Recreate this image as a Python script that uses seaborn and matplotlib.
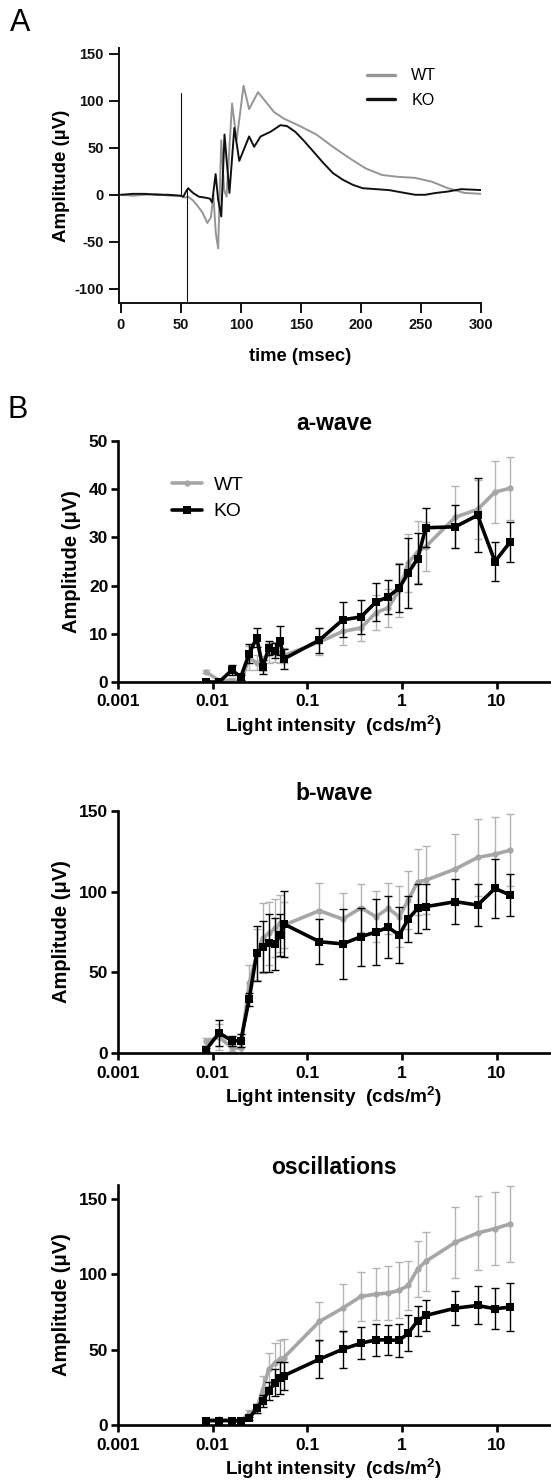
import matplotlib
matplotlib.use("Agg")
import matplotlib.pyplot as plt
import seaborn as sns
import numpy as np
from matplotlib.lines import Line2D

sns.set_theme(style="ticks")
plt.rcParams['font.family'] = ['Liberation Sans', 'DejaVu Sans']
plt.rcParams['text.color'] = 'black'
plt.rcParams['axes.labelcolor'] = 'black'
plt.rcParams['xtick.color'] = 'black'
plt.rcParams['ytick.color'] = 'black'
plt.rcParams['axes.unicode_minus'] = False
plt.rcParams['mathtext.fontset'] = 'custom'
plt.rcParams['mathtext.rm'] = 'Liberation Sans:bold'
plt.rcParams['mathtext.bf'] = 'Liberation Sans:bold'

# ---------------- Panel A: ERG traces ----------------
wt_time = [0, 10, 20, 30, 40, 50, 53, 56, 60, 64, 68, 72, 75, 77, 79, 81, 83.6, 86, 88,
           92.6, 96.4, 102.2, 106.8, 114.2, 120, 127.5, 135.7, 149.2, 162.9, 176.6,
           190.3, 204, 217.7, 231.4, 245.1, 258.8, 272.5, 286.2, 300]
wt_amp = [0, -1, 0, 1, -1, -1, -3, -2, -6, -12, -19, -30, -24, 0, -40, -57, 58, 5, -2,
          97, 58, 116, 91, 109, 100, 88, 81, 73, 64, 51, 39, 28, 21, 19, 18, 14, 7, 2, 1]

ko_time = [0, 10, 20, 30, 40, 49.5, 52, 54, 56, 60, 65, 70, 74, 76, 78.9, 81, 83.6, 86.3,
           90.4, 94.5, 98.6, 106.8, 111, 116.4, 124.7, 132.9, 138.4, 145.2, 152, 160.3,
           168.5, 176.7, 184.9, 193.2, 201.4, 212.3, 223.3, 234.2, 245.2, 253.4, 261.6,
           272.6, 283.6, 300]
ko_amp = [0, 1, 1, 0, 0, -1, -2, 3, 7, 2, -2, -3, -4, -8, 22, -5, -23, 64, 2, 71, 36,
          62, 51, 62, 67, 74, 73, 67, 58, 46, 34, 23, 16, 10.6, 7, 6, 5, 2.5, 0, 0, 1.8,
          3.5, 6, 5]

# stimulus artifact
art_time = [50, 50, np.nan, 55, 55]
art_amp = [0, 108, np.nan, 5, -113]

# ---------------- Panel B: intensity-response ----------------
intensity = [0.0085, 0.0117, 0.016, 0.0198, 0.0243, 0.0292, 0.0337, 0.039, 0.0458, 0.0514,
             0.0566, 0.134, 0.236, 0.368, 0.53, 0.714, 0.933, 1.16, 1.46, 1.78, 3.65, 6.28,
             9.57, 13.8]

a_wt = [2.1, 0.3, 0.3, 0.0, 5.0, 4.0, 3.8, 6.0, 6.2, 6.0, 5.5, 8.3, 10.5, 11.2, 14.4, 15.4,
        19.1, 24.7, 27.0, 28.1, 34.2, 35.8, 39.4, 40.2]
a_wt_err = [0.3, 0.3, 0.5, 0.3, 2.5, 1.5, 1.5, 2.0, 2.0, 2.0, 1.5, 2.8, 2.8, 2.7, 3.6, 3.9,
            5.6, 6.0, 6.5, 5.1, 6.5, 6.2, 6.5, 6.5]
a_ko = [0, 0, 2.5, 1.0, 5.9, 9.2, 3.1, 7.0, 6.5, 8.6, 4.8, 8.7, 12.9, 13.5, 16.6, 17.7, 19.5,
        22.6, 25.6, 32.0, 32.2, 34.6, 25.0, 29.0]
a_ko_err = [0.3, 0.3, 1.0, 0.5, 2.0, 2.0, 1.5, 1.5, 1.5, 3.0, 2.0, 2.6, 3.6, 3.5, 4.0, 3.5,
            5.0, 7.2, 5.3, 4.0, 4.5, 7.7, 4.1, 4.1]

b_wt = [7.2, 10.0, 3.1, 3.0, 43.3, 61.0, 71.1, 74.2, 77.3, 80.4, 79.3, 88.2, 83.0, 90.0,
        84.5, 89.6, 84.5, 94.8, 106.1, 107.1, 114.0, 121.2, 123.2, 125.7]
b_wt_err = [2, 8, 2, 5, 11, 16, 21.6, 19.6, 18, 17.5, 14, 17, 16, 15, 16, 16, 19, 18, 20.6,
            21, 22, 23.7, 22.8, 22.3]
b_ko = [2.1, 12.4, 7.6, 7.6, 33.4, 61.8, 65.9, 68.0, 67.6, 73.1, 79.9, 69.0, 67.6, 72.1,
        75.0, 77.9, 73.1, 83.0, 89.6, 90.7, 93.8, 91.7, 102.0, 97.9]
b_ko_err = [1, 7.8, 3, 4, 4, 17, 16, 18, 16, 13, 20.7, 14, 21.6, 18, 20.4, 19.3, 17.4, 14.4,
            15.3, 14, 14, 13, 18.3, 13]

o_wt = [2.9, 3.8, 2.9, 2.9, 7.7, 11, 23.2, 36.9, 41.4, 43.6, 44.7, 68.6, 77.4, 85.2, 86.7,
        87.4, 89.2, 92.5, 103.3, 108.4, 121.0, 127.2, 130.1, 133.2]
o_wt_err = [0.5, 0.5, 0.5, 0.5, 2, 3, 9, 11, 13, 13, 12, 12.8, 16, 16, 17.3, 17.7, 18.5,
            16.4, 18.4, 19.5, 23.5, 24.3, 24, 25]
o_ko = [2.9, 2.9, 2.9, 2.9, 4.4, 11.1, 16.2, 22.6, 28.1, 31.4, 32.7, 43.6, 50.2, 54.2, 56.4,
        56.4, 56.0, 60.8, 69.0, 72.6, 77.4, 79.2, 77.0, 78.1]
o_ko_err = [0.5, 0.5, 0.5, 0.5, 1, 3, 4, 6, 9, 10.6, 9.3, 12.4, 12.2, 10.4, 10.4, 10, 10.8,
            11.8, 10, 10.4, 11.1, 12.6, 13.7, 15.9]

x_ticks = [0.001, 0.01, 0.1, 1, 10]
x_ticklabels = ['0.001', '0.01', '0.1', '1', '10']

W, H = 551, 1483
fig = plt.figure(figsize=(W / 100, H / 100), dpi=100)

def box(l, t, r, b):
    return [l / W, 1 - b / H, (r - l) / W, (b - t) / H]

WT_A = '#959595'
WT_B = '#a6a6a6'
WT_ERR = '#b3b3b3'

# ---------------- Panel A ----------------
axA = fig.add_axes(box(119, 48, 481, 303))
sns.lineplot(x=wt_time, y=wt_amp, ax=axA, color=WT_A, linewidth=1.4, estimator=None, sort=False)
sns.lineplot(x=ko_time, y=ko_amp, ax=axA, color='#111111', linewidth=1.4, estimator=None, sort=False)
axA.plot(art_time, art_amp, color='#111111', linewidth=0.8)
axA.set_xlim(-1.6, 300)
axA.set_ylim(-115, 156)
axA.set_xticks([0, 50, 100, 150, 200, 250, 300])
axA.set_yticks([-100, -50, 0, 50, 100, 150])
for s in ['top', 'right']:
    axA.spines[s].set_visible(False)
for s in ['left', 'bottom']:
    axA.spines[s].set_linewidth(1.4)
    axA.spines[s].set_color('#111111')
axA.tick_params(direction='out', length=7, width=1.4, colors='#111111', labelsize=10.5, pad=4)
for lab in axA.get_xticklabels() + axA.get_yticklabels():
    lab.set_fontweight('bold')
axA.set_xlabel('time (msec)', fontsize=13.2, fontweight='bold', labelpad=11)
axA.set_ylabel('Amplitude (µV)', fontsize=13.5, fontweight='bold', labelpad=3)
hA = [Line2D([0], [0], color=WT_A, lw=2.4), Line2D([0], [0], color='#111111', lw=2.4)]
axA.legend(hA, ['WT', 'KO'], loc='center left', bbox_to_anchor=(0.685, 0.843), frameon=False,
           fontsize=11.6, handlelength=1.75, handletextpad=1.0, labelspacing=0.6,
           borderpad=0, borderaxespad=0)
fig.text(10 / W, 1 - 23 / H, 'A', fontsize=22, va='center', ha='left')
fig.text(8 / W, 1 - 410 / H, 'B', fontsize=22, va='center', ha='left')

# ---------------- Panel B ----------------
def panel(rect, wt, wt_err, ko, ko_err, ylim, yticks, title, legend=False):
    ax = fig.add_axes(rect)
    ax.errorbar(intensity, wt, yerr=wt_err, fmt='none', ecolor=WT_ERR, elinewidth=1.0,
                capsize=2.6, capthick=1.0, zorder=1)
    sns.lineplot(x=intensity, y=wt, ax=ax, color=WT_B, linewidth=2.6, marker='o',
                 markersize=4.5, markeredgewidth=0, markerfacecolor=WT_B, estimator=None,
                 zorder=2)
    ax.errorbar(intensity, ko, yerr=ko_err, fmt='none', ecolor='#000000', elinewidth=1.0,
                capsize=2.6, capthick=1.0, zorder=3)
    sns.lineplot(x=intensity, y=ko, ax=ax, color='#000000', linewidth=2.6, marker='s',
                 markersize=5.5, markeredgewidth=0, markerfacecolor='#000000', estimator=None,
                 zorder=4)
    ax.set_xscale('log')
    ax.set_xlim(0.001, 36.5)
    ax.set_ylim(*ylim)
    ax.set_xticks(x_ticks)
    ax.set_xticklabels(x_ticklabels)
    ax.xaxis.set_minor_locator(matplotlib.ticker.NullLocator())
    ax.set_yticks(yticks)
    for s in ['top', 'right']:
        ax.spines[s].set_visible(False)
    for s in ['left', 'bottom']:
        ax.spines[s].set_linewidth(1.9)
        ax.spines[s].set_color('#000000')
    ax.tick_params(direction='out', length=5, width=1.9, colors='#000000', labelsize=12.5)
    ax.tick_params(axis='x', pad=4)
    ax.tick_params(axis='y', pad=2)
    for lab in ax.get_xticklabels() + ax.get_yticklabels():
        lab.set_fontweight('bold')
    ax.set_xlabel(r'Light intensity  (cds/m$^{2}$)', fontsize=13.7, fontweight='bold', labelpad=2.5)
    ax.set_ylabel('Amplitude (μV)', fontsize=14.5, fontweight='bold', labelpad=6)
    ax.set_title(title, fontsize=16.5, fontweight='bold', pad=8, x=0.5)
    if legend:
        h = [Line2D([0], [0], color=WT_B, lw=2.6, marker='o', markersize=4.5, markeredgewidth=0),
             Line2D([0], [0], color='#000000', lw=2.6, marker='s', markersize=5.5, markeredgewidth=0)]
        ax.legend(h, ['WT', 'KO'], loc='center left', bbox_to_anchor=(0.125, 0.761), frameon=False,
                  fontsize=13.9, handlelength=1.55, handletextpad=0.6, labelspacing=0.45,
                  borderpad=0, borderaxespad=0)
    return ax

panel(box(118, 441, 550, 682), a_wt, a_wt_err, a_ko, a_ko_err, (0, 50),
      [0, 10, 20, 30, 40, 50], 'a-wave', legend=True)
panel(box(118, 811, 550, 1053), b_wt, b_wt_err, b_ko, b_ko_err, (0, 150),
      [0, 50, 100, 150], 'b-wave')
panel(box(118, 1185, 550, 1425), o_wt, o_wt_err, o_ko, o_ko_err, (0, 159),
      [0, 50, 100, 150], 'oscillations')

fig.savefig('out.png', dpi=100)
